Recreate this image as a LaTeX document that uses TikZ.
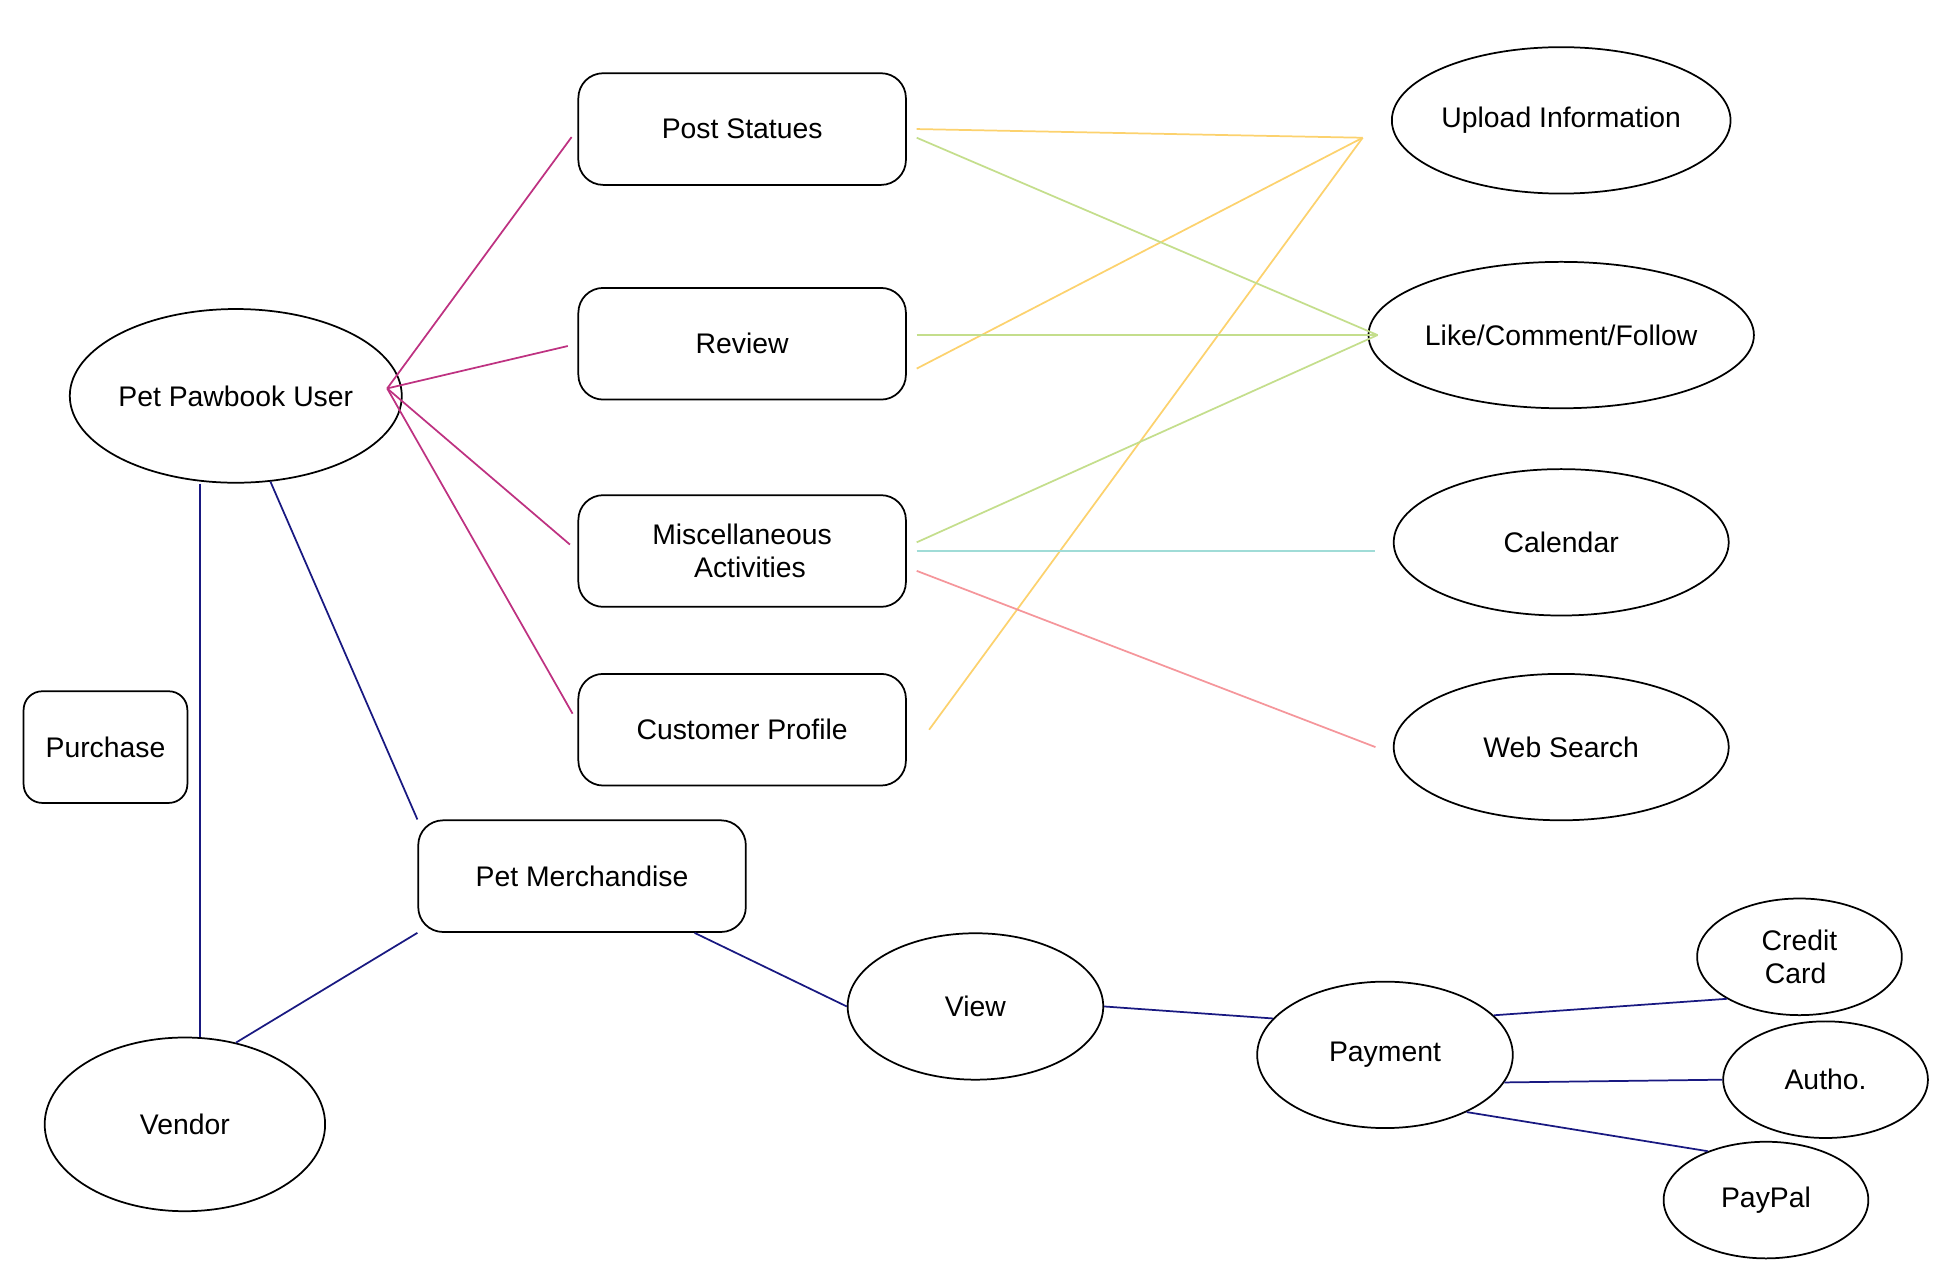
\documentclass[tikz,border=0pt]{standalone}
\usepackage{fontspec}
\setmainfont{Liberation Sans}
\usetikzlibrary{calc, positioning, shapes.geometric}
\definecolor{softyellow}{RGB}{252, 210, 110}
\definecolor{softgreen}{RGB}{196, 222, 140}
\definecolor{softteal}{RGB}{160, 220, 215}
\definecolor{softpink}{RGB}{245, 150, 155}
\tikzset{
    boxnode/.style = {draw, thick, rectangle, rounded corners=0.4cm, minimum width=5.28cm, minimum height=1.8cm, align=center},
    ovalnode/.style = {draw, thick, ellipse, inner sep=0pt, minimum width=5.4cm, minimum height=2.36cm, align=center},
    usernode/.style = {ovalnode, minimum width=4.52cm, minimum height=2.8cm},
    paynode/.style = {ovalnode, minimum width=3.3cm, minimum height=1.88cm},
    usercon/.style = {thick, color=magenta!75!black, shorten >=0.16cm},
    shopcon/.style = {thick, color=blue!45!black!90},
    yellowcon/.style = {thick, color=softyellow},
    greencon/.style = {thick, color=softgreen},
    every node/.style = {font=\fontsize{13}{15}\selectfont}
}
\begin{document}
\begin{tikzpicture}[x=0.02cm, y=-0.02cm]
    \useasboundingbox (0,0) rectangle (1560,1033);

    \node[usernode, name=user] at (190,319) {Pet Pawbook User};
    \node[boxnode, name=post] at (598,104) {Post Statues};
    \node[boxnode, name=review] at (598,277) {Review};
    \node[boxnode, name=misc] at (598,444) {Miscellaneous\\ \ \ Activities};
    \node[boxnode, name=profile] at (598,588) {Customer Profile};

    \node[ovalnode, name=upload] at (1258,97) {Upload Information};
    \node[ovalnode, name=like] at (1258,270) {Like/Comment/Follow};
    \node[ovalnode, name=calendar] at (1258,437) {Calendar};
    \node[ovalnode, name=search] at (1258,602) {Web Search};

    \node[boxnode, name=purchase, minimum width=2.64cm, rounded corners=0.3cm] at (85,602) {Purchase};
    \node[boxnode, name=merch] at (469,706) {Pet Merchandise};
    \node[usernode, name=vendor] at (149,906) {Vendor};
    \node[ovalnode, name=view, minimum width=4.12cm] at (786,811) {View};
    \node[ovalnode, name=payment, minimum width=4.12cm] at (1116,850) {Payment};
    \node[paynode, name=credit] at (1450,771) {Credit\\Card\ \ };
    \node[paynode, name=autho] at (1471,870) {Autho.};
    \node[paynode, name=paypal] at (1423,967) {PayPal};

    % meeting points of the lines
    \coordinate (hub) at (312,313);
    \coordinate (upin) at (1098,111);
    \coordinate (likein) at (1110,270);

    \draw[usercon] (hub) -- (post.west);
    \draw[usercon] (hub) -- (review.west);
    \draw[usercon] (hub) -- (misc.west);
    \draw[usercon] (hub) -- ($(profile.west)+(0,-6)$);

    \draw[yellowcon] ($(post.east)+(8,0)$) -- (upin);
    \draw[yellowcon] ($(review.east)+(8,20)$) -- (upin);
    \draw[yellowcon] ($(profile.east)+(18,0)$) -- (upin);
    \draw[greencon] ($(post.east)+(8,7)$) -- (likein);
    \draw[greencon] ($(review.east)+(8,-7)$) -- (likein);
    \draw[greencon] ($(misc.east)+(8,-7)$) -- (likein);
    \draw[thick, color=softteal] ($(misc.east)+(8,0)$) -- ($(calendar.west)+(-14,7)$);
    \draw[thick, color=softpink] ($(misc.east)+(8,16)$) -- ($(search.west)+(-14,0)$);

    \draw[shopcon] ($(user.south)+(-29,0)$) -- ($(vendor.north)+(12,0)$);
    \draw[shopcon] (user.-68) -- (merch.north west);
    \draw[shopcon] (merch.south west) -- (vendor.58);
    \draw[shopcon] ($(merch.south east)+(-42,0)$) -- (view.west);
    \draw[shopcon] (view.east) -- (payment.162);
    \draw[shopcon] (payment.20) -- (credit.-150);
    \draw[shopcon] (payment.-13) -- (autho.west);
    \draw[shopcon] (payment.-35) -- (paypal.140);
\end{tikzpicture}
\end{document}
